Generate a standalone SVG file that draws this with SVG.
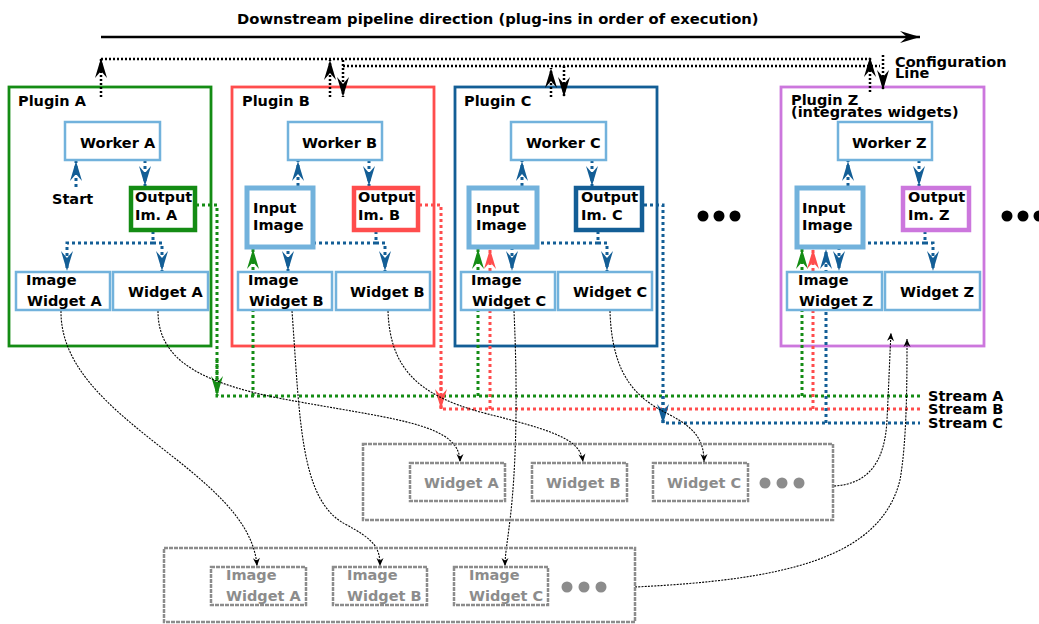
<svg xmlns="http://www.w3.org/2000/svg" width="1039" height="624" viewBox="0 0 1039 624">
<style>
text{font-family:"DejaVu Sans","Liberation Sans",sans-serif;font-weight:bold;font-size:14.5px;fill:#000}
.t{font-size:14.75px}
.g{fill:#8c8c8c}
.plug{fill:none;stroke-width:2.8}
.box{fill:#fff;stroke:#72b2dc;stroke-width:2.5}
.inp{fill:#fff;stroke:#72b2dc;stroke-width:5}
.out{fill:#fff;stroke-width:4.5}
.gbox{fill:#fff;stroke:#8c8c8c;stroke-width:2.5;stroke-dasharray:4,1}
.gbig{fill:none;stroke:#8c8c8c;stroke-width:2.5;stroke-dasharray:4,1}
.db{fill:none;stroke:#135e96;stroke-width:3;stroke-dasharray:3,3}
.gr{fill:none;stroke:#148c14;stroke-width:3;stroke-dasharray:3,3}
.rd{fill:none;stroke:#ff4d4d;stroke-width:3;stroke-dasharray:3,3}
.cfg{fill:none;stroke:#000;stroke-width:2.5;stroke-dasharray:2,2}
.thin{fill:none;stroke:#000;stroke-width:1.1;stroke-dasharray:2,1.2}
</style>
<defs>
<marker id="mDB" markerUnits="userSpaceOnUse" viewBox="-21 -7 22 14" markerWidth="22" markerHeight="14" refX="0" refY="0" orient="auto"><path d="M0,0 L-20,-6 L-13,0 L-20,6 Z" fill="#135e96"/></marker>
<marker id="mGR" markerUnits="userSpaceOnUse" viewBox="-21 -7 22 14" markerWidth="22" markerHeight="14" refX="0" refY="0" orient="auto"><path d="M0,0 L-20,-6 L-13,0 L-20,6 Z" fill="#148c14"/></marker>
<marker id="mRD" markerUnits="userSpaceOnUse" viewBox="-21 -7 22 14" markerWidth="22" markerHeight="14" refX="0" refY="0" orient="auto"><path d="M0,0 L-20,-6 L-13,0 L-20,6 Z" fill="#ff4d4d"/></marker>
<marker id="mBK" markerUnits="userSpaceOnUse" viewBox="-21 -7 22 14" markerWidth="22" markerHeight="14" refX="0" refY="0" orient="auto"><path d="M0,0 L-20,-6 L-13,0 L-20,6 Z" fill="#000"/></marker>
<marker id="mSm" markerUnits="userSpaceOnUse" viewBox="-9 -4 10 8" markerWidth="10" markerHeight="8" refX="0" refY="0" orient="auto"><path d="M0,0 L-8,-3.5 L-5.5,0 L-8,3.5 Z" fill="#000"/></marker>
</defs>
<rect width="1039" height="624" fill="#fff"/>

<g id="title">
<text class="t" x="237" y="24">Downstream pipeline direction (plug-ins in order of execution)</text>
<line x1="101" y1="37" x2="920" y2="37" stroke="#000" stroke-width="2.5" marker-end="url(#mBK)"/>
</g>

<g id="plugin-a"><rect class="plug" x="9" y="87" width="202" height="259" stroke="#148c14"/><text x="18" y="106">Plugin A</text></g>
<g id="plugin-b"><rect class="plug" x="232" y="87" width="202" height="259" stroke="#ff4d4d"/><text x="242" y="106">Plugin B</text></g>
<g id="plugin-c"><rect class="plug" x="455" y="87" width="202" height="259" stroke="#135e96"/><text x="464" y="106">Plugin C</text></g>
<g id="plugin-z"><rect class="plug" x="781" y="87" width="203" height="259" stroke="#cc77dd"/><text x="791" y="105">Plugin Z</text><text x="791" y="117">(integrates widgets)</text></g>

<g id="connectors">
<path class="cfg" d="M101,59 H870"/>
<path class="cfg" d="M343,66 H880"/>
<path class="cfg" d="M101,97 V58" marker-end="url(#mBK)"/>
<path class="cfg" d="M330,97 V60" marker-end="url(#mBK)"/>
<path class="cfg" d="M343,60 V97" marker-end="url(#mBK)"/>
<path class="cfg" d="M551,97 V68" marker-end="url(#mBK)"/>
<path class="cfg" d="M564,66 V97" marker-end="url(#mBK)"/>
<path class="cfg" d="M870,92 V57" marker-end="url(#mBK)"/>
<path class="cfg" d="M883,55 V90" marker-end="url(#mBK)"/>
<path class="db" d="M76,187 V161" marker-end="url(#mDB)"/>
<path class="db" d="M145,160 V186" marker-end="url(#mDB)"/>
<path class="db" d="M153,231 V243 H67 V271" marker-end="url(#mDB)"/>
<path class="db" d="M153,243 H162 V271" marker-end="url(#mDB)"/>
<path class="db" d="M298,186 V161" marker-end="url(#mDB)"/>
<path class="db" d="M369,160 V186" marker-end="url(#mDB)"/>
<path class="db" d="M376,231 V243 H288 V271" marker-end="url(#mDB)"/>
<path class="db" d="M376,243 H385 V271" marker-end="url(#mDB)"/>
<path class="db" d="M522,186 V161" marker-end="url(#mDB)"/>
<path class="db" d="M592,160 V186" marker-end="url(#mDB)"/>
<path class="db" d="M598,231 V243 H512 V271" marker-end="url(#mDB)"/>
<path class="db" d="M598,243 H607 V271" marker-end="url(#mDB)"/>
<path class="db" d="M848,186 V161" marker-end="url(#mDB)"/>
<path class="db" d="M919,160 V186" marker-end="url(#mDB)"/>
<path class="db" d="M925,231 V243 H839 V271" marker-end="url(#mDB)"/>
<path class="db" d="M925,243 H933 V271" marker-end="url(#mDB)"/>
<path class="gr" d="M196,205 H217 V396 H920"/>
<path class="gr" d="M217,360 V396" marker-end="url(#mGR)"/>
<path class="gr" d="M253,396 V249" marker-end="url(#mGR)"/>
<path class="gr" d="M478,396 V249" marker-end="url(#mGR)"/>
<path class="gr" d="M802,396 V249" marker-end="url(#mGR)"/>
<path class="rd" d="M419,205 H441 V409 H920"/>
<path class="rd" d="M441,370 V409" marker-end="url(#mRD)"/>
<path class="rd" d="M490,409 V249" marker-end="url(#mRD)"/>
<path class="rd" d="M813,409 V249" marker-end="url(#mRD)"/>
<path class="db" d="M644,205 H663 V423 H920"/>
<path class="db" d="M663,390 V424" marker-end="url(#mDB)"/>
<path class="db" d="M826,423 V249" marker-end="url(#mDB)"/>
<path class="thin" d="M61,311 C60,420 250,470 257,566" marker-end="url(#mSm)"/>
<path class="thin" d="M158,311 C158,360 200,385 300,402 C400,420 460,425 460,462" marker-end="url(#mSm)"/>
<path class="thin" d="M292,311 C300,420 300,500 345,524 C375,540 380,548 380,566" marker-end="url(#mSm)"/>
<path class="thin" d="M388,311 C390,370 420,395 480,412 C560,432 580,440 583,462" marker-end="url(#mSm)"/>
<path class="thin" d="M514,311 C518,400 516,470 510,520 C507,545 505,555 505,566" marker-end="url(#mSm)"/>
<path class="thin" d="M610,311 C612,380 640,400 670,415 C695,428 704,440 704,462" marker-end="url(#mSm)"/>
<path class="thin" d="M834,486 C870,484 885,460 887,420 C889,380 890,350 891,333" marker-end="url(#mSm)"/>
<path class="thin" d="M635,587 C780,580 880,560 900,480 C907,440 907,380 907,339" marker-end="url(#mSm)"/>
</g>

<g id="start"><text x="52" y="204">Start</text></g>

<g id="worker-a"><rect class="box" x="65" y="122" width="95" height="38"/><text x="80" y="148">Worker A</text></g>
<g id="output-a"><rect class="out" x="131" y="188" width="64" height="42" stroke="#148c14"/><text x="135" y="202">Output</text><text x="135" y="220">Im. A</text></g>
<g id="image-widget-a"><rect class="box" x="16" y="272" width="94" height="38"/><text x="26" y="285">Image</text><text x="27" y="306">Widget A</text></g>
<g id="widget-a"><rect class="box" x="113" y="272" width="95" height="38"/><text x="128" y="297">Widget A</text></g>

<g id="worker-b"><rect class="box" x="288" y="122" width="94" height="38"/><text x="302" y="148">Worker B</text></g>
<g id="input-b"><rect class="inp" x="247" y="188" width="66" height="59"/><text x="253" y="213">Input</text><text x="253" y="230">Image</text></g>
<g id="output-b"><rect class="out" x="354" y="188" width="64" height="42" stroke="#ff4d4d"/><text x="358" y="202">Output</text><text x="358" y="220">Im. B</text></g>
<g id="image-widget-b"><rect class="box" x="238" y="272" width="94" height="38"/><text x="248" y="285">Image</text><text x="249" y="306">Widget B</text></g>
<g id="widget-b"><rect class="box" x="336" y="272" width="94" height="38"/><text x="350" y="297">Widget B</text></g>

<g id="worker-c"><rect class="box" x="511" y="122" width="95" height="38"/><text x="526" y="148">Worker C</text></g>
<g id="input-c"><rect class="inp" x="469" y="188" width="68" height="59"/><text x="476" y="213">Input</text><text x="476" y="230">Image</text></g>
<g id="output-c"><rect class="out" x="576" y="188" width="66" height="42" stroke="#135e96"/><text x="581" y="202">Output</text><text x="581" y="220">Im. C</text></g>
<g id="image-widget-c"><rect class="box" x="461" y="272" width="94" height="38"/><text x="471" y="285">Image</text><text x="472" y="306">Widget C</text></g>
<g id="widget-c"><rect class="box" x="558" y="272" width="94" height="38"/><text x="573" y="297">Widget C</text></g>

<g id="worker-z"><rect class="box" x="838" y="122" width="94" height="38"/><text x="852" y="148">Worker Z</text></g>
<g id="input-z"><rect class="inp" x="797" y="188" width="66" height="59"/><text x="802" y="213">Input</text><text x="802" y="230">Image</text></g>
<g id="output-z"><rect class="out" x="903" y="188" width="66" height="42" stroke="#cc77dd"/><text x="908" y="202">Output</text><text x="908" y="220">Im. Z</text></g>
<g id="image-widget-z"><rect class="box" x="787" y="272" width="95" height="38"/><text x="798" y="285">Image</text><text x="799" y="306">Widget Z</text></g>
<g id="widget-z"><rect class="box" x="885" y="272" width="95" height="38"/><text x="900" y="297">Widget Z</text></g>

<g id="ellipsis-1"><circle cx="703" cy="216" r="5.5"/><circle cx="719" cy="216" r="5.5"/><circle cx="735" cy="216" r="5.5"/></g>
<g id="ellipsis-2"><circle cx="1007" cy="216" r="5.5"/><circle cx="1023" cy="216" r="5.5"/><circle cx="1039" cy="216" r="5.5"/></g>

<g id="config-label"><text x="895" y="67">Configuration</text><text x="895" y="78">Line</text></g>
<g id="stream-labels"><text x="928" y="401">Stream A</text><text x="928" y="414">Stream B</text><text x="928" y="428">Stream C</text></g>

<g id="widget-panel">
<rect class="gbig" x="363" y="444" width="470" height="76"/>
<g id="panel-widget-a"><rect class="gbox" x="410" y="463" width="95" height="38"/><text class="g" x="424" y="488">Widget A</text></g>
<g id="panel-widget-b"><rect class="gbox" x="532" y="463" width="95" height="38"/><text class="g" x="546" y="488">Widget B</text></g>
<g id="panel-widget-c"><rect class="gbox" x="653" y="463" width="95" height="38"/><text class="g" x="667" y="488">Widget C</text></g>
<circle class="g" cx="765" cy="483" r="5.5"/><circle class="g" cx="782" cy="483" r="5.5"/><circle class="g" cx="799" cy="483" r="5.5"/>
</g>

<g id="image-widget-panel">
<rect class="gbig" x="164" y="548" width="471" height="74"/>
<g id="panel-image-widget-a"><rect class="gbox" x="211" y="567" width="95" height="38"/><text class="g" x="226" y="580">Image</text><text class="g" x="226" y="601">Widget A</text></g>
<g id="panel-image-widget-b"><rect class="gbox" x="333" y="567" width="94" height="38"/><text class="g" x="347" y="580">Image</text><text class="g" x="347" y="601">Widget B</text></g>
<g id="panel-image-widget-c"><rect class="gbox" x="454" y="567" width="94" height="38"/><text class="g" x="469" y="580">Image</text><text class="g" x="469" y="601">Widget C</text></g>
<circle class="g" cx="567" cy="587" r="5.5"/><circle class="g" cx="584" cy="587" r="5.5"/><circle class="g" cx="601" cy="587" r="5.5"/>
</g>
</svg>
